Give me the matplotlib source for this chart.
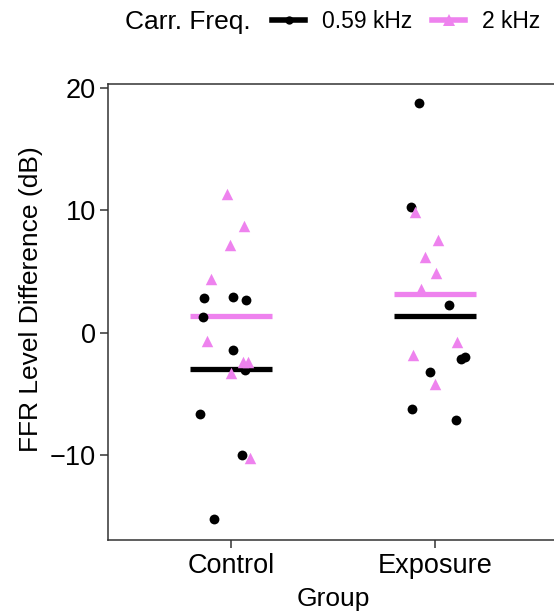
import matplotlib
matplotlib.use("Agg")
import matplotlib.pyplot as plt
from matplotlib.lines import Line2D
import numpy as np

plt.rcParams["font.family"] = ["Liberation Sans", "DejaVu Sans"]

groups = ["Control", "Exposure"]
freq_labels = ["0.59 kHz", "2 kHz"]
colors = ["black", "#EE82EE"]
markers = ["o", "^"]

# jittered x positions and FFR level differences (dB)
ctrl_059_x = [0.868, 1.010, 1.075, 0.864, 1.010, 1.069, 0.850, 1.055, 0.920]
ctrl_059_y = [2.81, 2.94, 2.65, 1.31, -1.44, -3.05, -6.67, -10.03, -15.26]
ctrl_2k_x = [0.982, 1.067, 0.995, 0.902, 0.884, 1.059, 1.083, 1.000, 1.093]
ctrl_2k_y = [11.32, 8.72, 7.17, 4.42, -0.65, -2.42, -2.42, -3.32, -10.27]
expo_059_x = [1.924, 1.884, 2.069, 2.126, 2.149, 1.974, 1.889, 2.103]
expo_059_y = [18.76, 10.30, 2.29, -2.17, -2.01, -3.19, -6.21, -7.16]
expo_2k_x = [1.904, 2.015, 1.953, 2.007, 1.930, 2.108, 1.892, 2.002]
expo_2k_y = [9.90, 7.55, 6.21, 4.88, 3.55, -0.78, -1.80, -4.17]

series = [
    [(ctrl_059_x, ctrl_059_y), (expo_059_x, expo_059_y)],
    [(ctrl_2k_x, ctrl_2k_y), (expo_2k_x, expo_2k_y)],
]

fig = plt.figure(figsize=(5.54, 6.11), dpi=100)
ax = fig.add_axes([0.1955, 0.1162, 0.8105, 0.7463])

for k in range(2):
    for g in range(2):
        xs, ys = series[k][g]
        ax.scatter(xs, ys, s=50 if k == 0 else 68, marker=markers[k],
                   color=colors[k], linewidths=0, zorder=3)
        m = np.mean(ys)
        ax.plot([g + 1 - 0.2, g + 1 + 0.2], [m, m], color=colors[k],
                lw=3.8, solid_capstyle="butt", zorder=2)

ax.set_xlim(0.4, 2.6)
ax.set_ylim(-16.95, 20.33)
ax.set_xticks([1, 2])
ax.set_xticklabels(groups)
ax.set_yticks([-10, 0, 10, 20])
ax.set_yticklabels(["\u221210", "0", "10", "20"])
ax.tick_params(axis="both", labelsize=19.5, length=6, width=1.1,
               color="#333333", labelcolor="black", pad=3)
for side in ["left", "top", "bottom"]:
    ax.spines[side].set_color("#333333")
    ax.spines[side].set_linewidth(1.1)
ax.spines["right"].set_visible(False)
ax.set_xlabel("Group", fontsize=19, labelpad=6)
ax.set_ylabel("FFR Level Difference (dB)", fontsize=19)
ax.yaxis.set_label_coords(-0.146, 0.528)

fig.text(0.226, 0.964, "Carr. Freq.", fontsize=19, ha="left", va="center")
handles = [
    Line2D([], [], color=colors[k], lw=4, marker=markers[k],
           markersize=6 if k == 0 else 8, markeredgewidth=0)
    for k in range(2)
]
fig.legend(handles, freq_labels, loc="center left", bbox_to_anchor=(0.491, 0.964),
           ncol=2, frameon=False, fontsize=16.5, handlelength=1.44,
           handletextpad=0.74, columnspacing=0.87, borderaxespad=0, borderpad=0)

fig.savefig("out.png", dpi=100)
